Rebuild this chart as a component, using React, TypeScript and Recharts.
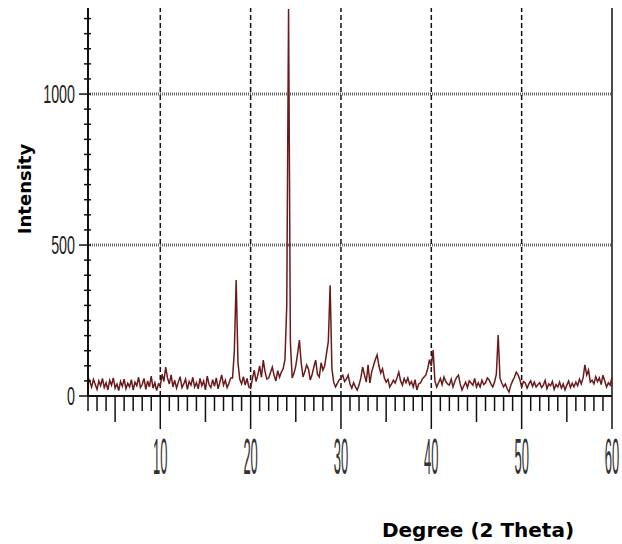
import React from "react";
import { LineChart, Line, XAxis, YAxis, ReferenceLine } from "recharts";

// XRD scan, 2 to 60 degrees in 0.2 degree steps
const degStart = 2;
const degStep = 0.2;
const intensity = [
  62, 48, 30, 55, 38, 22, 50, 34, 58, 28,
  44, 20, 52, 36, 60, 26, 40, 18, 48, 32,
  56, 24, 42, 30, 54, 20, 46, 34, 62, 28,
  38, 58, 22, 50, 30, 66, 26, 44, 18, 40,
  34, 72, 48, 96, 60, 40, 70, 30, 52, 26,
  46, 64, 28, 40, 56, 22, 48, 36, 62, 30,
  44, 24, 58, 34, 50, 20, 66, 38, 28, 54,
  32, 60, 24, 46, 70, 36, 52, 28, 42, 60,
  60, 150, 384, 110, 55, 40, 64, 36, 58, 30,
  26, 58, 86, 48, 70, 100, 62, 119, 80, 56,
  60, 78, 96, 68, 50, 84, 62, 79, 90, 120,
  300, 1282, 180, 60, 75, 100, 140, 185, 110, 63,
  80, 103, 90, 53, 70, 96, 119, 72, 63, 110,
  86, 100, 140, 180, 367, 90, 45, 30, 42, 53,
  60, 69, 48, 56, 69, 40, 26, 44, 30, 20,
  36, 60, 96, 70, 46, 103, 43, 80, 100, 120,
  136, 100, 76, 90, 60, 46, 55, 30, 40, 52,
  43, 60, 79, 50, 36, 58, 44, 60, 38, 48,
  30, 54, 20, 40, 43, 56, 63, 70, 90, 120,
  100, 152, 50, 30, 44, 58, 38, 63, 48, 40,
  36, 56, 30, 48, 62, 69, 40, 20, 34, 46,
  28, 50, 43, 36, 58, 30, 44, 30, 52, 38,
  43, 60, 53, 40, 30, 46, 72, 202, 60, 43,
  30, 40, 24, 13, 36, 50, 62, 79, 70, 55,
  30, 48, 43, 26, 40, 50, 32, 46, 30, 38,
  44, 28, 36, 52, 24, 40, 34, 48, 22, 38,
  30, 46, 26, 40, 20, 36, 50, 28, 42, 30,
  46, 34, 56, 40, 60, 103, 70, 86, 46, 52,
  40, 64, 48, 60, 38, 69, 50, 30, 44, 36,
  63,
];

const xTicks = Array.from({ length: 59 }, (_, i) => i + 2);
const yTicks = Array.from({ length: 26 }, (_, i) => i * 50);
const xGrid = [10, 20, 30, 40, 50];
const yGrid = [500, 1000];

const data = intensity.map((v, i) => ({
  deg: +(degStart + i * degStep).toFixed(1),
  counts: v,
}));

const XTick = (props: any) => {
  const { x, y, payload } = props;
  const v = payload.value;
  const len = v % 10 === 0 ? 33 : v % 5 === 0 ? 26 : 15;
  return (
    <g>
      <line x1={x} x2={x} y1={y} y2={y + len} stroke="#111" strokeWidth={1.5} />
      {v % 10 === 0 && (
        <text
          transform={`translate(${x},${y + 78}) scale(0.26,1)`}
          textAnchor="middle"
          fontSize={50}
          fill="#333"
          fontFamily="Liberation Sans, Arial, sans-serif"
        >
          {v}
        </text>
      )}
    </g>
  );
};

const YTick = (props: any) => {
  const { x, y, payload } = props;
  const v = payload.value;
  const major = v % 500 === 0;
  return (
    <g>
      <line x1={major ? x - 9 : x - 4} x2={x + 3} y1={y} y2={y} stroke="#111" strokeWidth={1.5} />
      {major && (
        <text
          transform={`translate(${x - 13},${y + 9}) scale(0.55,1)`}
          textAnchor="end"
          fontSize={26}
          fill="#222"
          fontFamily="Liberation Sans, Arial, sans-serif"
        >
          {v}
        </text>
      )}
    </g>
  );
};

export default function App() {
  return (
    <div style={{ position: "absolute", left: 0, top: 0, width: 622, height: 544, background: "#fff" }}>
      <LineChart width={622} height={544} data={data} margin={{ top: 8, right: 10, bottom: 58, left: 0 }}>
        <XAxis
          dataKey="deg"
          type="number"
          domain={[2, 60]}
          ticks={xTicks}
          interval={0}
          tickSize={0}
          tickMargin={0}
          tickLine={false}
          tick={<XTick />}
          height={90}
          axisLine={{ stroke: "#111", strokeWidth: 2 }}
        />
        <YAxis
          type="number"
          domain={[0, 1285]}
          allowDataOverflow
          ticks={yTicks}
          interval={0}
          tickSize={0}
          tickMargin={0}
          tickLine={false}
          tick={<YTick />}
          width={88}
          axisLine={{ stroke: "#111", strokeWidth: 2 }}
        />
        {yGrid.map((v) => (
          <ReferenceLine key={"y" + v} y={v} stroke="#666" strokeWidth={3} strokeDasharray="1 1" />
        ))}
        {xGrid.map((v) => (
          <ReferenceLine key={"x" + v} x={v} stroke="#111" strokeWidth={1.5} strokeDasharray="5 3" />
        ))}
        <ReferenceLine x={60} stroke="#111" strokeWidth={1.5} />
        <Line
          type="linear"
          dataKey="counts"
          stroke="#6a1a1a"
          strokeWidth={1.5}
          dot={false}
          isAnimationActive={false}
        />
      </LineChart>
      <svg width={622} height={544} style={{ position: "absolute", left: 0, top: 0, pointerEvents: "none" }}>
        <text
          transform="translate(31,189) rotate(-90)"
          textAnchor="middle"
          fontSize={18}
          fontWeight="bold"
          fontFamily="DejaVu Sans, sans-serif"
          fill="#000"
        >
          Intensity
        </text>
        <text
          x={478}
          y={537}
          textAnchor="middle"
          fontSize={20}
          fontWeight="bold"
          fontFamily="DejaVu Sans, sans-serif"
          fill="#000"
        >
          Degree (2 Theta)
        </text>
      </svg>
    </div>
  );
}
